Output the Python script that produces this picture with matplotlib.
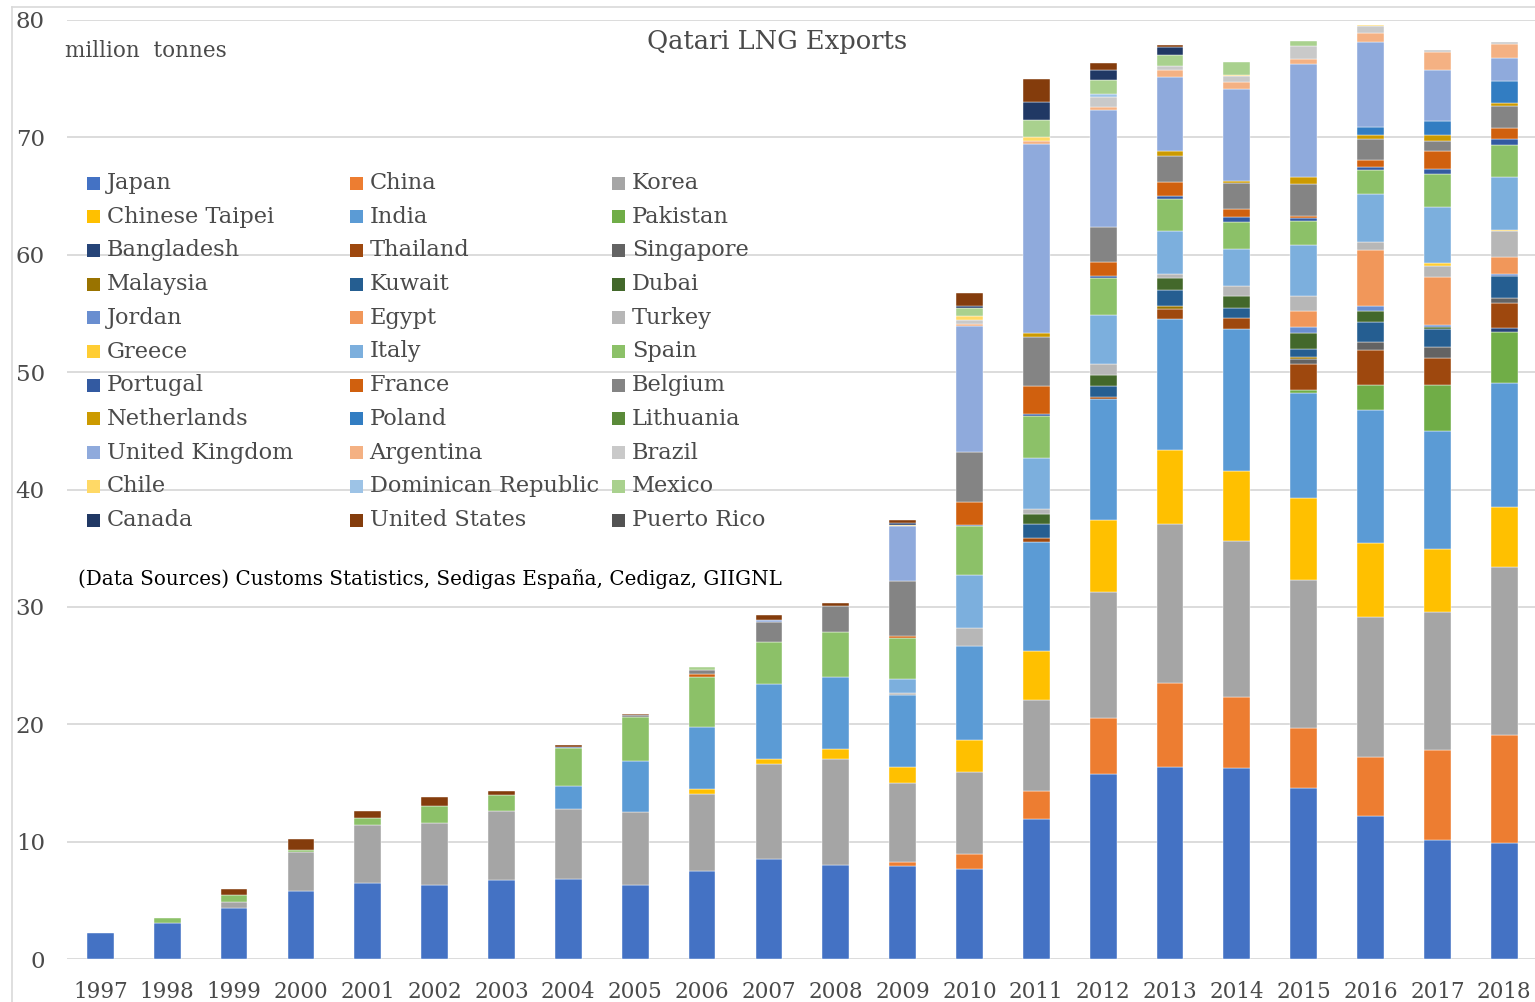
import matplotlib
matplotlib.use("Agg")
import matplotlib.pyplot as plt
import numpy as np
from matplotlib.patches import Rectangle
from matplotlib.lines import Line2D

plt.rcParams['font.family'] = ['DejaVu Serif']

years = ['1997', '1998', '1999', '2000', '2001', '2002', '2003', '2004', '2005', '2006', '2007',
         '2008', '2009', '2010', '2011', '2012', '2013', '2014', '2015', '2016', '2017', '2018']

countries = ['Japan', 'China', 'Korea', 'Chinese Taipei', 'India', 'Pakistan', 'Bangladesh',
             'Thailand', 'Singapore', 'Malaysia', 'Kuwait', 'Dubai', 'Jordan', 'Egypt', 'Turkey',
             'Greece', 'Italy', 'Spain', 'Portugal', 'France', 'Belgium', 'Netherlands', 'Poland',
             'Lithuania', 'United Kingdom', 'Argentina', 'Brazil', 'Chile', 'Dominican Republic',
             'Mexico', 'Canada', 'United States', 'Puerto Rico']

japan = [2.2, 3.05, 4.35, 5.8, 6.45, 6.3, 6.7, 6.8, 6.3, 7.5, 8.5, 8.0, 7.9, 7.7, 11.9, 15.8, 16.4, 16.3, 14.6, 12.2, 10.1, 9.9]
china = [0, 0, 0, 0, 0, 0, 0, 0, 0, 0, 0, 0, 0.4, 1.25, 2.4, 4.7, 7.1, 6.0, 5.1, 5.0, 7.7, 9.2]
korea = [0, 0, 0.5, 3.3, 4.95, 5.3, 5.9, 6.0, 6.2, 6.55, 8.1, 9.0, 6.7, 7.0, 7.8, 10.8, 13.6, 13.3, 12.6, 11.9, 11.8, 14.3]
taipei = [0, 0, 0, 0, 0, 0, 0, 0, 0, 0.45, 0.4, 0.9, 1.35, 2.75, 4.1, 6.1, 6.3, 6.0, 7.0, 6.3, 5.3, 5.1]
india = [0, 0, 0, 0, 0, 0, 0, 1.9, 4.4, 5.3, 6.4, 6.1, 6.1, 8.0, 9.3, 10.3, 11.1, 12.1, 8.9, 11.4, 10.1, 10.6]
pakistan = [0, 0, 0, 0, 0, 0, 0, 0, 0, 0, 0, 0, 0, 0, 0, 0, 0, 0, 0.3, 2.1, 3.9, 4.3]
bangladesh = [0, 0, 0, 0, 0, 0, 0, 0, 0, 0, 0, 0, 0, 0, 0, 0, 0, 0, 0, 0, 0, 0.4]
thailand = [0, 0, 0, 0, 0, 0, 0, 0, 0, 0, 0, 0, 0, 0, 0.4, 0.15, 0.9, 0.95, 2.2, 3.0, 2.3, 2.05]
singapore = [0, 0, 0, 0, 0, 0, 0, 0, 0, 0, 0, 0, 0, 0, 0, 0, 0, 0, 0.4, 0.7, 0.9, 0.5]
malaysia = [0, 0, 0, 0, 0, 0, 0, 0, 0, 0, 0, 0, 0, 0, 0, 0, 0.2, 0, 0.15, 0, 0, 0]
kuwait = [0, 0, 0, 0, 0, 0, 0, 0, 0, 0, 0, 0, 0, 0, 1.2, 0.95, 1.4, 0.85, 0.75, 1.7, 1.6, 1.85]
dubai = [0, 0, 0, 0, 0, 0, 0, 0, 0, 0, 0, 0, 0, 0, 0.8, 0.95, 1.0, 1.0, 1.35, 0.95, 0.15, 0]
jordan = [0, 0, 0, 0, 0, 0, 0, 0, 0, 0, 0, 0, 0, 0, 0, 0, 0, 0, 0.5, 0.35, 0.15, 0.15]
egypt = [0, 0, 0, 0, 0, 0, 0, 0, 0, 0, 0, 0, 0, 0, 0, 0, 0, 0, 1.35, 4.8, 4.1, 1.45]
turkey = [0, 0, 0, 0, 0, 0, 0, 0, 0, 0, 0, 0, 0.2, 1.5, 0.4, 0.9, 0.35, 0.8, 1.3, 0.7, 0.9, 2.2]
greece = [0, 0, 0, 0, 0, 0, 0, 0, 0, 0, 0, 0, 0, 0, 0, 0, 0, 0, 0, 0, 0.3, 0.15]
italy = [0, 0, 0, 0, 0, 0, 0, 0, 0, 0, 0, 0, 1.2, 4.5, 4.4, 4.2, 3.7, 3.2, 4.3, 4.1, 4.8, 4.5]
spain = [0, 0.45, 0.6, 0.15, 0.6, 1.45, 1.35, 3.25, 3.75, 4.2, 3.6, 3.9, 3.5, 4.2, 3.6, 3.2, 2.7, 2.25, 2.1, 2.0, 2.8, 2.7]
portugal = [0, 0, 0, 0, 0, 0, 0, 0.15, 0, 0, 0, 0, 0, 0.1, 0.15, 0.1, 0.25, 0.45, 0.2, 0.3, 0.4, 0.5]
france = [0, 0, 0, 0, 0, 0, 0, 0, 0, 0.3, 0, 0, 0.15, 1.9, 2.35, 1.2, 1.2, 0.7, 0.2, 0.55, 1.5, 0.95]
belgium = [0, 0, 0, 0, 0, 0, 0, 0, 0.15, 0.3, 1.7, 2.2, 4.7, 4.3, 4.2, 3.0, 2.25, 2.2, 2.7, 1.85, 0.85, 1.85]
netherlands = [0, 0, 0, 0, 0, 0, 0, 0, 0, 0, 0, 0, 0, 0, 0.3, 0, 0.4, 0.15, 0.6, 0.3, 0.55, 0.3]
poland = [0, 0, 0, 0, 0, 0, 0, 0, 0, 0, 0, 0, 0, 0, 0, 0, 0, 0, 0, 0.7, 1.2, 1.85]
lithuania = [0, 0, 0, 0, 0, 0, 0, 0, 0, 0, 0, 0, 0, 0, 0, 0, 0, 0, 0, 0, 0, 0]
uk = [0, 0, 0, 0, 0, 0, 0, 0, 0, 0, 0.2, 0, 4.7, 10.7, 16.1, 10.0, 6.3, 7.9, 9.65, 7.25, 4.3, 1.95]
argentina = [0, 0, 0, 0, 0, 0, 0, 0, 0, 0, 0, 0, 0, 0.2, 0.25, 0.2, 0.6, 0.6, 0.45, 0.75, 1.6, 1.2]
brazil = [0, 0, 0, 0, 0, 0, 0, 0, 0, 0, 0, 0, 0, 0.3, 0, 0.9, 0.3, 0.45, 1.05, 0.55, 0.15, 0.15]
chile = [0, 0, 0, 0, 0, 0, 0, 0, 0, 0, 0, 0, 0.1, 0.35, 0.4, 0, 0, 0.15, 0, 0.15, 0, 0]
dominican = [0, 0, 0, 0, 0, 0, 0, 0, 0, 0, 0, 0, 0, 0, 0, 0.25, 0, 0, 0, 0, 0, 0]
mexico = [0, 0, 0, 0, 0, 0, 0, 0, 0, 0.3, 0, 0, 0, 0.7, 1.4, 1.2, 1.0, 1.05, 0.45, 0, 0, 0]
canada = [0, 0, 0, 0, 0, 0, 0, 0, 0, 0, 0, 0, 0.15, 0.15, 1.6, 0.8, 0.65, 0, 0, 0, 0, 0]
usa = [0, 0, 0.5, 1.0, 0.6, 0.75, 0.35, 0.15, 0.1, 0, 0.4, 0.2, 0.25, 1.1, 1.9, 0.65, 0.15, 0, 0, 0, 0, 0]
puerto_rico = [0, 0, 0, 0, 0, 0, 0, 0, 0, 0, 0, 0, 0, 0, 0, 0, 0, 0, 0, 0, 0, 0]

series = [japan, china, korea, taipei, india, pakistan, bangladesh, thailand, singapore,
          malaysia, kuwait, dubai, jordan, egypt, turkey, greece, italy, spain, portugal,
          france, belgium, netherlands, poland, lithuania, uk, argentina, brazil, chile,
          dominican, mexico, canada, usa, puerto_rico]

colors = ['#4472C4', '#ED7D31', '#A5A5A5', '#FFC000', '#5B9BD5', '#70AD47', '#264478',
          '#9E480E', '#636363', '#997300', '#255E91', '#43682B', '#698ED0', '#F1975A',
          '#B7B7B7', '#FFCD33', '#7CAFDD', '#8CC168', '#335AA1', '#D0600E', '#848484',
          '#CC9A00', '#327DC2', '#5A8A39', '#8FAADC', '#F4B183', '#C9C9C9', '#FFD966',
          '#9DC3E6', '#A9D18E', '#203864', '#843C0C', '#525252']

TXT = '#4a4a4a'
W, H = 1535, 1002
fig = plt.figure(figsize=(W / 100, H / 100), dpi=100)
ax_left, ax_right, ax_top, ax_bot = 67, 1535, 20, 959
ax = fig.add_axes([ax_left / W, (H - ax_bot) / H, (ax_right - ax_left) / W, (ax_bot - ax_top) / H])

x = np.arange(len(years))
bottom = np.zeros(len(years))
for vals, c in zip(series, colors):
    v = np.array(vals, dtype=float)
    m = v > 0
    ax.bar(x[m], v[m], 0.4, bottom=bottom[m], color=c, edgecolor='white', linewidth=0.3, zorder=3)
    bottom += v

ax.set_xlim(-0.5, 21.46)
ax.set_ylim(0, 80)
ax.set_yticks(np.arange(0, 81, 10))
ax.set_xticks(x)
ax.set_xticklabels(years)
ax.tick_params(axis='both', length=0, colors=TXT)
ax.tick_params(axis='y', pad=16, labelsize=16.5)
ax.tick_params(axis='x', pad=16, labelsize=15.5)
ax.grid(axis='y', color='#D9D9D9', linewidth=1.3, zorder=0)
for s in ax.spines.values():
    s.set_visible(False)

# chart border (left / top)
fig.add_artist(Line2D([12 / W, 12 / W], [0, 1 - 7 / H], color='#D9D9D9', linewidth=1.2))
fig.add_artist(Line2D([12 / W, 1], [1 - 7 / H, 1 - 7 / H], color='#D9D9D9', linewidth=1.2))

def fx(px):
    return px / W

def fy(py):
    return 1 - py / H

fig.text(fx(777), fy(42), 'Qatari LNG Exports', ha='center', va='center', fontsize=18.5, color=TXT)
fig.text(fx(65), fy(51), 'million  tonnes', ha='left', va='center', fontsize=15.5, color=TXT)
fig.text(fx(78), fy(579), '(Data Sources) Customs Statistics, Sedigas España, Cedigaz, GIIGNL',
         ha='left', va='center', fontsize=14.3, color='black')

# legend (row-major, 3 columns)
for i, (name, c) in enumerate(zip(countries, colors)):
    row, col = divmod(i, 3)
    px = 87 + col * 262.5
    py = 183 + row * 33.7
    fig.add_artist(Rectangle((fx(px), fy(py + 6.5)), 13 / W, 13 / H, transform=fig.transFigure,
                             facecolor=c, edgecolor='none'))
    fig.text(fx(px + 20), fy(py), name, ha='left', va='center', fontsize=16.2, color=TXT)

fig.savefig('out.png', dpi=100)
